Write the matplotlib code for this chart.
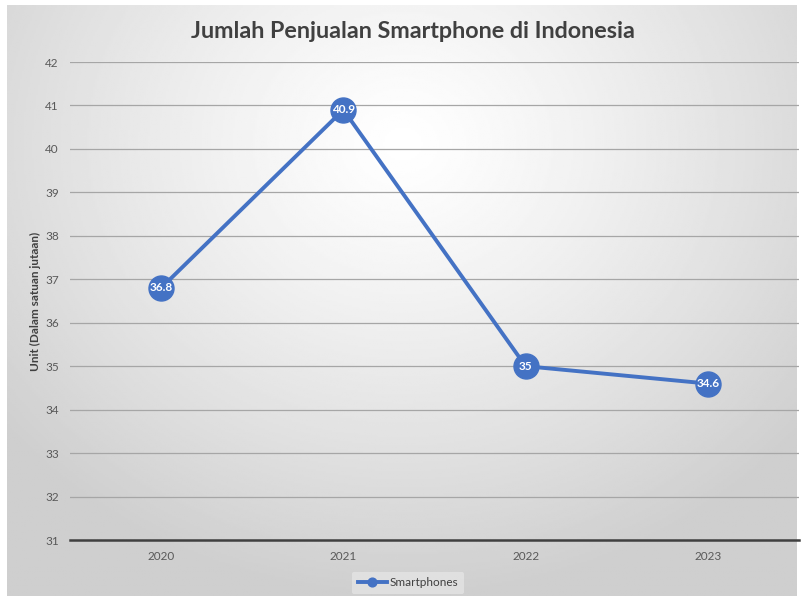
import numpy as np
import matplotlib.pyplot as plt

years = ['2020', '2021', '2022', '2023']
sales = [36.8, 40.9, 35, 34.6]
labels = ['36.8', '40.9', '35', '34.6']
yticks = list(range(31, 43))

plt.rcParams['font.family'] = ['Lato', 'DejaVu Sans']

fig = plt.figure(figsize=(8.03, 6.01), dpi=100)

# radial gradient background for the chart area
bg = fig.add_axes([7 / 803, 5 / 601, 790 / 803, 591 / 601], zorder=0)
yy, xx = np.mgrid[0:300, 0:400]
d = np.sqrt(((xx - 200) / 260.0) ** 2 + ((yy - 70) / 230.0) ** 2)
val = 1.0 - 0.19 * np.clip(d, 0, 1) ** 1.2
bg.imshow(val, cmap='gray', vmin=0, vmax=1, aspect='auto', extent=[0, 1, 0, 1], origin='upper')
bg.axis('off')

ax = fig.add_axes([70 / 803, 1 - 540 / 601, 729 / 803, 478 / 601], zorder=1)
ax.patch.set_alpha(0)
x = np.arange(len(years))
ax.plot(x, sales, color='#4472C4', lw=2.8, marker='o', ms=18, zorder=3)
for xi, v, t in zip(x, sales, labels):
    ax.text(xi, v, t, ha='center', va='center', color='white', fontsize=8.5,
            fontweight='bold', zorder=4)

ax.set_xlim(-0.5, 3.5)
ax.set_ylim(31, 42)
ax.set_yticks(yticks)
ax.set_xticks(x)
ax.set_xticklabels(years)
ax.tick_params(length=0, labelsize=8.5, colors='#595959', pad=8)
ax.grid(axis='y', color='#a6a6a6', lw=0.9)
for s in ['top', 'right', 'left']:
    ax.spines[s].set_visible(False)
ax.spines['bottom'].set_color('#404040')
ax.spines['bottom'].set_linewidth(1.8)
ax.set_ylabel('Unit (Dalam satuan jutaan)', fontsize=8.5, fontweight='bold',
              color='#404040', labelpad=3)

fig.text(0.514, 1 - 32 / 601, 'Jumlah Penjualan Smartphone di Indonesia',
         ha='center', va='center', fontsize=16.8, fontweight='bold', color='#404040')

leg = fig.legend(['Smartphones'], loc='center', bbox_to_anchor=(0.508, 1 - 583 / 601),
                 fontsize=8.5, frameon=True, handlelength=2.5, markerscale=0.35,
                 handletextpad=0.2, borderpad=0.5)
leg.get_frame().set_facecolor('#e4e4e4')
leg.get_frame().set_edgecolor('none')
for t in leg.get_texts():
    t.set_color('#404040')

fig.savefig('out.png', dpi=100)
